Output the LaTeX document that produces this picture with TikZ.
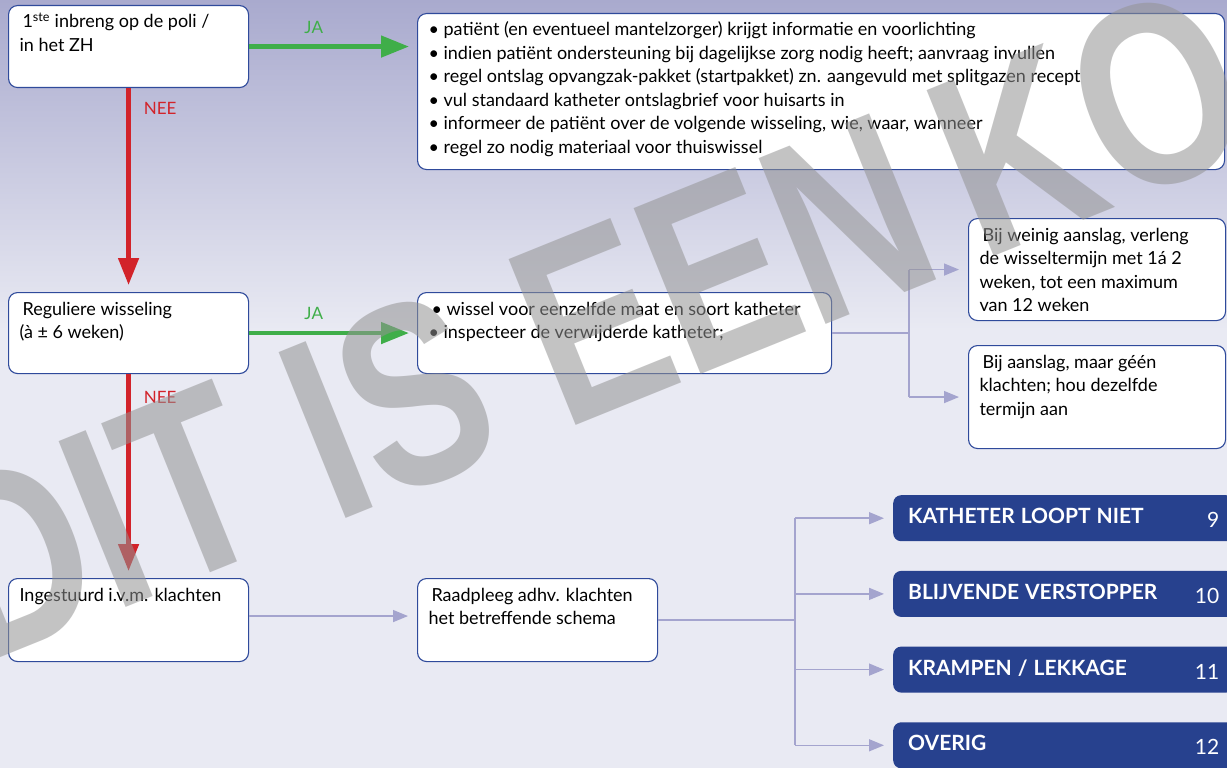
\documentclass[tikz,border=0pt]{standalone}
\usepackage{fontspec}
\setmainfont{Lato}
\newfontfamily\stempelfont{Liberation Sans}
\usepackage{graphicx}
\usetikzlibrary{arrows.meta}

\definecolor{kaderblauw}{HTML}{2F4A9B}
\definecolor{vakblauw}{HTML}{27418E}
\definecolor{jagroen}{HTML}{3FAE49}
\definecolor{neerood}{HTML}{D2232A}
\definecolor{lijnpaars}{HTML}{A4A4CE}
\definecolor{bgboven}{HTML}{A9AACE}
\definecolor{bgonder}{HTML}{E9EAF3}
\definecolor{stempelgrijs}{HTML}{939393}

% tekst bovenaan in een kader van b x h (in pt)
\newcommand{\kadertekst}[3]{\parbox[t][\dimexpr#2pt-12pt\relax][t]{\dimexpr#1pt-22pt\relax}{\strut#3}}

\tikzset{
  kader/.style={draw=kaderblauw, line width=1.1pt, fill=white, rounded corners=9pt,
    anchor=north west, inner xsep=11pt, inner ysep=6pt},
  klachtvak/.style={fill=vakblauw, rounded corners=8pt, anchor=north west,
    minimum height=46pt, text width=311pt, inner xsep=15pt, text=white},
  japijl/.style={draw=jagroen, line width=4.7pt, -{Triangle[length=28pt,width=21pt]}, shorten >=8pt},
  neepijl/.style={draw=neerood, line width=4.7pt, -{Triangle[length=27pt,width=20pt]}, shorten >=7pt},
  lijn/.style={draw=lijnpaars, line width=1.5pt},
  pijl/.style={lijn, -{Triangle[length=15pt,width=12pt]}, shorten >=9pt},
  jalabel/.style={above=11pt, inner sep=0pt, text=jagroen, font={\fontsize{17}{17}\selectfont}},
  neelabel/.style={right=13pt, inner sep=0pt, text=neerood, font={\fontsize{17}{17}\selectfont}},
  stempel/.style={anchor=base west, rotate=22, inner sep=0pt, text=stempelgrijs, text opacity=0.55,
    font={\stempelfont\bfseries\fontsize{260}{260}\selectfont}}
}

\begin{document}
\begin{tikzpicture}[x=1pt,y=-1pt,font={\fontsize{18}{23.5}\selectfont}]
  \useasboundingbox (0,0) rectangle (1227,768);
  \clip (0,0) rectangle (1227,768);
  % achtergrond
  \shade[top color=bgboven, bottom color=bgonder] (0,0) rectangle (1227,330);
  \fill[bgonder] (0,329) rectangle (1227,768);

  % situaties links
  \node[kader] (inbreng) at (8,5) {\kadertekst{240}{82}{\,1\textsuperscript{ste} inbreng op de poli /\\in het ZH}};
  \node[kader] (regulier) at (8,292) {\kadertekst{240}{81}{\,Reguliere wisseling\\(à ± 6 weken)}};
  \node[kader] (ingestuurd) at (8,578) {\kadertekst{240}{83}{Ingestuurd i.v.m. klachten}};

  % acties
  \node[kader] (voorlichting) at (417,13) {\kadertekst{807}{156}{%
    • patiënt (en eventueel mantelzorger) krijgt informatie en voorlichting\\
    • indien patiënt ondersteuning bij dagelijkse zorg nodig heeft; aanvraag invullen\\
    • regel ontslag opvangzak-pakket (startpakket) zn. aangevuld met splitgazen recept\\
    • vul standaard katheter ontslagbrief voor huisarts in\\
    • informeer de patiënt over de volgende wisseling, wie, waar, wanneer\\
    • regel zo nodig materiaal voor thuiswissel}};
  \node[kader] (wissel) at (417,292) {\kadertekst{414}{81}{\,• wissel voor eenzelfde maat en soort katheter\\• inspecteer de verwijderde katheter;}};
  \node[kader] (raadpleeg) at (417,578) {\kadertekst{240}{83}{\,Raadpleeg adhv. klachten\\het betreffende schema}};
  \node[kader] (verleng) at (968,218) {\kadertekst{257}{102}{\,Bij weinig aanslag, verleng\\de wisseltermijn met 1á 2\\weken, tot een maximum\\van 12 weken}};
  \node[kader] (geenklacht) at (968,345) {\kadertekst{257}{103}{\,Bij aanslag, maar géén\\klachten; hou dezelfde\\termijn aan}};

  % schema's per klacht
  \foreach \tekst/\nr [count=\i] in {KATHETER LOOPT NIET/9, BLIJVENDE VERSTOPPER/10, {KRAMPEN / LEKKAGE}/11, OVERIG/12}
    \node[klachtvak] (klacht\nr) at (893,{495+75.7*(\i-1)})
      {{\bfseries\fontsize{21}{21}\selectfont\tekst}\hfill\raisebox{-4pt}{\fontsize{21}{21}\selectfont\nr}};

  % ja / nee
  \draw[japijl] (inbreng.east) -- (inbreng.east -| voorlichting.west) node[jalabel, pos=0.385] (ja1) {JA};
  \draw[neepijl] (inbreng.south) -- (regulier.north) node[neelabel, pos=0.1] (nee1) {NEE};
  \draw[japijl] (regulier.east) -- (regulier.east -| wissel.west) node[jalabel, pos=0.385] (ja2) {JA};
  \draw[neepijl] (regulier.south) -- (ingestuurd.north) node[neelabel, pos=0.115] (nee2) {NEE};

  \coordinate (ingUit) at ([yshift=4pt]ingestuurd.east);
  \draw[pijl] (ingUit) -- (ingUit -| raadpleeg.west);

  % splitsing na wissel
  \coordinate (splitsW) at ([xshift=77pt]wissel.east);
  \draw[lijn] (wissel.east) -- (splitsW);
  \draw[lijn] (splitsW |- verleng.west) -- (splitsW |- geenklacht.west);
  \draw[pijl] (splitsW |- verleng.west) -- (verleng.west);
  \draw[pijl] (splitsW |- geenklacht.west) -- (geenklacht.west);

  % splitsing na raadpleeg
  \coordinate (splitsR) at ([xshift=137pt]raadpleeg.east);
  \draw[lijn] (raadpleeg.east) -- (splitsR);
  \draw[lijn] (splitsR |- klacht9.west) -- (splitsR |- klacht12.west);
  \foreach \nr in {9,10,11,12}
    \draw[pijl] (splitsR |- klacht\nr.west) -- (klacht\nr.west);

  % watermerk
  \node[stempel] (watermerk) at (-22,667) {\scalebox{0.78}[1]{DIT IS EEN\kern-28pt\ KO}};
\end{tikzpicture}
\end{document}
